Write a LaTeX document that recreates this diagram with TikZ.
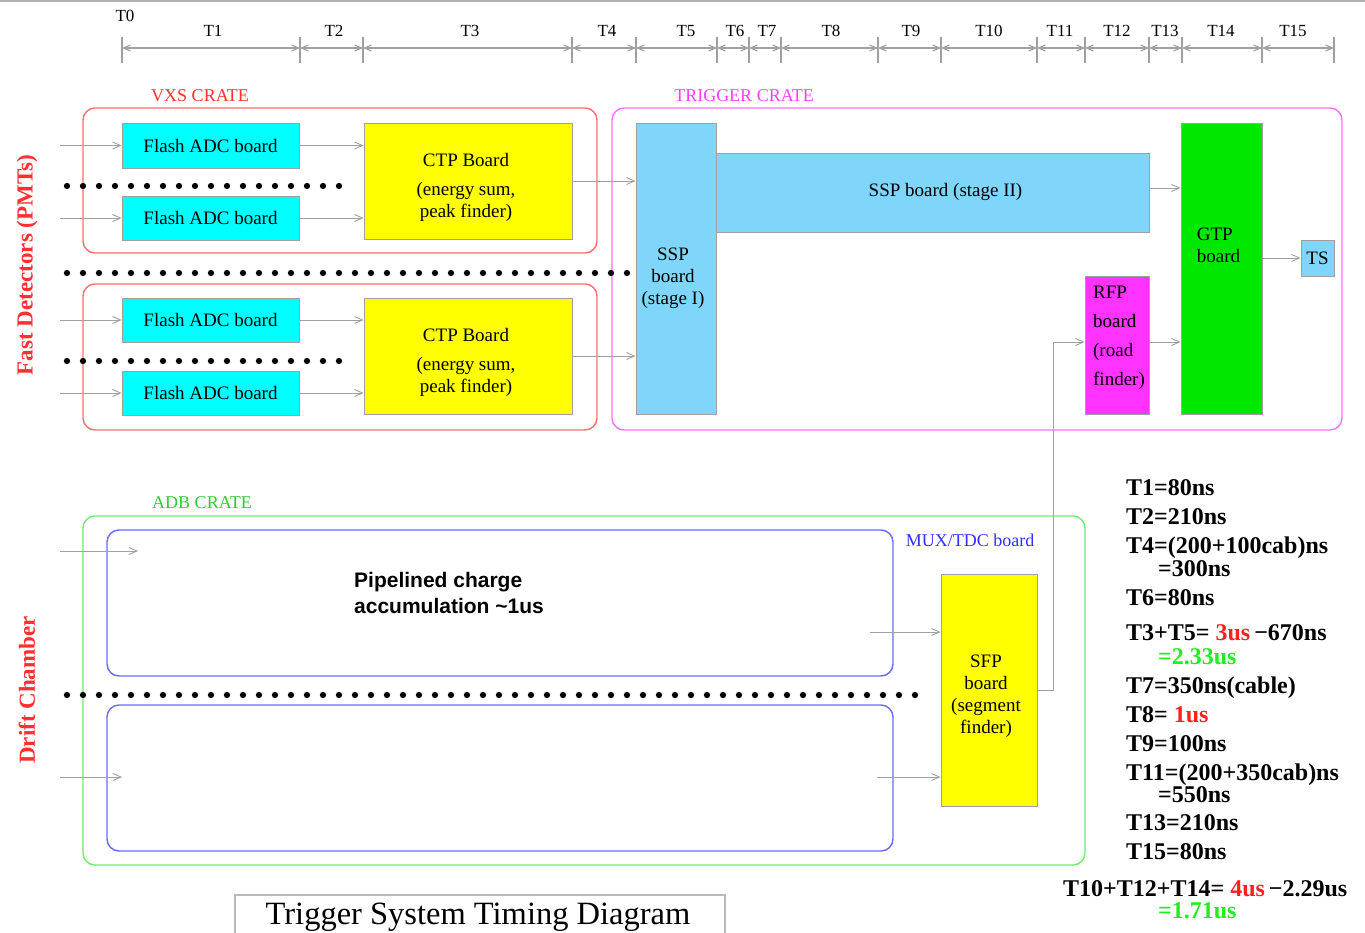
\documentclass[tikz,border=0pt]{standalone}
\usepackage{fontspec}
\setmainfont{Liberation Serif}
\newfontfamily\arialfont{Liberation Sans}
\usetikzlibrary{arrows.meta,calc}
\definecolor{fcyan}{HTML}{00FFFF}
\definecolor{fyellow}{HTML}{FFFF00}
\definecolor{sspblue}{HTML}{80D6FA}
\definecolor{rfpmag}{HTML}{FF33FF}
\definecolor{gtpgreen}{HTML}{00E800}
\definecolor{cratered}{HTML}{FF7070}
\definecolor{cratemag}{HTML}{FF70FF}
\definecolor{crategreen}{HTML}{70EE70}
\definecolor{muxblue}{HTML}{6A6AFF}
\definecolor{lblred}{HTML}{FF3030}
\definecolor{lblmag}{HTML}{FF40FF}
\definecolor{lblgreen}{HTML}{30CC30}
\definecolor{lblblue}{HTML}{3030FF}
\definecolor{arrgray}{HTML}{A0A0A0}
\definecolor{valred}{HTML}{FF2020}
\definecolor{valgreen}{HTML}{20EE20}
\begin{document}
\begin{tikzpicture}[x=1pt,y=-1pt,
  board/.style={draw=arrgray, line width=0.8pt, rectangle, inner sep=0pt, font=\fontsize{19}{22}\selectfont, align=center},
  btext/.style={font=\fontsize{19}{22}\selectfont, inner sep=0pt},
  crate/.style={draw, rectangle, rounded corners=12pt, line width=1.4pt, inner sep=0pt},
  conn/.style={draw=arrgray, line width=0.9pt, -{Straight Barb[length=8pt,width=7pt]}},
  tline/.style={draw=arrgray, line width=1.1pt, {Straight Barb[length=7pt,width=6pt]}-{Straight Barb[length=7pt,width=6pt]}},
  tick/.style={draw=arrgray, line width=1.1pt},
  tlab/.style={font=\fontsize{17}{19}\selectfont, inner sep=0pt},
  dots/.style={line width=6.3pt, line cap=round, dash pattern=on 0pt off 16pt},
  vals/.style={anchor=base west, font=\bfseries\fontsize{24}{28}\selectfont, inner sep=0pt},
  clbl/.style={font=\fontsize{18}{20}\selectfont, inner sep=0pt},
  side/.style={rotate=90, font=\bfseries\fontsize{23}{26}\selectfont, text=lblred, inner sep=0pt}
]
\fill[white] (0,0) rectangle (1365,932);
\useasboundingbox (0,0) rectangle (1365,932);
\draw[gray!60, line width=2pt] (0,1) -- (1365,1);

% timeline
\foreach \x [count=\i from 0] in {122,300,363,572,636,717,749,781,878,941,1037,1085,1149,1182,1262,1334} {
  \coordinate (tk\i) at (\x,48);
  \draw[tick] (\x,37) -- (\x,63);
}
\foreach \i [count=\j from 1] in {0,...,14} { \draw[tline] (tk\i) -- (tk\j); }
\node[tlab] (labT0) at (125,16) {T0};
\foreach \lab/\x in {T1/213,T2/334,T3/470,T4/607,T5/686,T6/735,T7/767,T8/831,T9/911,T10/989,T11/1060,T12/1117,T13/1165,T14/1221,T15/1293}
  \node[tlab] (lab\lab) at (\x,31) {\lab};

% crates
\node[crate, draw=cratered, minimum width=514pt, minimum height=145pt] (vxs1) at (340,180.5) {};
\node[crate, draw=cratered, minimum width=514pt, minimum height=146pt] (vxs2) at (340,357) {};
\node[crate, draw=cratemag, minimum width=730pt, minimum height=322pt] (trig) at (977,269) {};
\node[crate, draw=crategreen, minimum width=1002pt, minimum height=349pt] (adb) at (584,690.5) {};
\node[crate, draw=muxblue, minimum width=786pt, minimum height=146pt] (mux1) at (500,603) {};
\node[crate, draw=muxblue, minimum width=786pt, minimum height=146pt] (mux2) at (500,778) {};
\node[clbl, text=lblred] (vxslbl) at (200,96) {VXS CRATE};
\node[clbl, text=lblmag] (triglbl) at (744,96) {TRIGGER CRATE};
\node[clbl, text=lblgreen] (adblbl) at (202,503) {ADB CRATE};
\node[clbl, text=lblblue] (muxlbl) at (970,540) {MUX/TDC board};

% boards
\node[board, fill=fcyan, minimum width=177pt, minimum height=45pt] (fadc1) at (210.5,145.5) {Flash ADC board};
\node[board, fill=fcyan, minimum width=177pt, minimum height=44pt] (fadc2) at (210.5,218) {Flash ADC board};
\node[board, fill=fcyan, minimum width=177pt, minimum height=44pt] (fadc3) at (210.5,320) {Flash ADC board};
\node[board, fill=fcyan, minimum width=177pt, minimum height=44pt] (fadc4) at (210.5,393) {Flash ADC board};
\node[board, fill=fyellow, minimum width=208pt, minimum height=116pt,
  label={[btext, align=center, xshift=-2pt, yshift=-6pt]center:{CTP Board\\[7pt](energy sum,\\ peak finder)}}] (ctp1) at (468,181) {};
\node[board, fill=fyellow, minimum width=208pt, minimum height=116pt,
  label={[btext, align=center, xshift=-2pt, yshift=-6pt]center:{CTP Board\\[7pt](energy sum,\\ peak finder)}}] (ctp2) at (468,356) {};
\node[board, fill=sspblue, minimum width=433pt, minimum height=79pt,
  label={[btext, xshift=13pt, yshift=1pt]center:{SSP board (stage II)}}] (ssp2) at (932.5,192.5) {};
\node[board, fill=sspblue, minimum width=80pt, minimum height=291pt,
  label={[btext, align=center, xshift=-3pt, yshift=-10pt]center:{SSP\\board\\(stage I)}}] (ssp1) at (676,268.5) {};
\node[board, fill=rfpmag, minimum width=64pt, minimum height=138pt,
  label={[btext, align=left, xshift=2pt, yshift=7.5pt, font=\fontsize{19}{29}\selectfont]center:{RFP\\board\\(road\\finder)}}] (rfp) at (1117,345) {};
\node[board, fill=gtpgreen, minimum width=81pt, minimum height=291pt,
  label={[btext, align=left, xshift=-3pt, yshift=23.5pt]center:{GTP\\board}}] (gtp) at (1221.5,268.5) {};
\node[board, fill=sspblue, minimum width=33pt, minimum height=36pt] (ts) at (1317.5,258) {TS};
\node[board, fill=fyellow, minimum width=96pt, minimum height=232pt,
  label={[btext, align=center, xshift=-3pt, yshift=-6.5pt]center:{SFP\\board\\(segment\\finder)}}] (sfp) at (989,690) {};

\node[font=\arialfont\bfseries\fontsize{21}{26}\selectfont, align=left, anchor=north west, inner sep=0pt] (pipe) at (354,572) {Pipelined charge\\accumulation \textasciitilde1us};

% connectors
\coordinate (in1) at (60,145.5);
\coordinate (in2) at (60,218);
\coordinate (in3) at (60,320);
\coordinate (in4) at (60,393);
\draw[conn] (in1) -- (fadc1.west);
\draw[conn] (in2) -- (fadc2.west);
\draw[conn] (in3) -- (fadc3.west);
\draw[conn] (in4) -- (fadc4.west);
\draw[conn] (fadc1.east) -- (fadc1.east -| ctp1.west);
\draw[conn] (fadc2.east) -- (fadc2.east -| ctp1.west);
\draw[conn] (fadc3.east) -- (fadc3.east -| ctp2.west);
\draw[conn] (fadc4.east) -- (fadc4.east -| ctp2.west);
\draw[conn] (ctp1.east) -- (ctp1.east -| ssp1.west);
\draw[conn] (ctp2.east) -- (ctp2.east -| ssp1.west);
\draw[conn] ([yshift=4.5pt]ssp2.east) -- ([yshift=4.5pt]ssp2.east -| gtp.west);
\draw[conn] ([yshift=3pt]rfp.east) -- ([yshift=3pt]rfp.east -| gtp.west);
\draw[conn] (gtp.east |- ts.west) -- (ts.west);
\coordinate (sfpbend) at (1053,690);
\draw[conn] (sfp.east) -- (sfpbend) |- ([yshift=3pt]rfp.west);
\coordinate (in5) at (60,551);
\coordinate (in5end) at (138,551);
\coordinate (in6) at (60,777);
\coordinate (in6end) at (122,777);
\draw[conn] (in5) -- (in5end);
\draw[conn] (in6) -- (in6end);
\coordinate (m1out) at (870,632);
\coordinate (m2out) at (877,777);
\draw[conn] (m1out) -- (m1out -| sfp.west);
\draw[conn] (m2out) -- (m2out -| sfp.west);

% dotted rows
\draw[dots] (67,186) -- (345,186);
\draw[dots] (67,273) -- (632,273);
\draw[dots] (67,361) -- (345,361);
\draw[dots] (67,695) -- (920,695);

% side labels
\node[side] (fastdet) at (27,265) {Fast Detectors (PMTs)};
\node[side] (drift) at (27,690) {Drift Chamber};

% values
\node[vals] (v1) at (1126,495) {T1=80ns};
\node[vals] (v2) at (1126,524) {T2=210ns};
\node[vals] (v3) at (1126,553) {T4=(200+100cab)ns};
\node[vals] (v4) at (1158,576) {=300ns};
\node[vals] (v5) at (1126,605) {T6=80ns};
\node[vals] (v6) at (1126,640) {T3+T5= {\color{valred}3us}\,−670ns};
\node[vals, text=valgreen] (v7) at (1158,664) {=2.33us};
\node[vals] (v8) at (1126,693) {T7=350ns(cable)};
\node[vals] (v9) at (1126,722) {T8= {\color{valred}1us}};
\node[vals] (v10) at (1126,751) {T9=100ns};
\node[vals] (v11) at (1126,780) {T11=(200+350cab)ns};
\node[vals] (v12) at (1158,802) {=550ns};
\node[vals] (v13) at (1126,830) {T13=210ns};
\node[vals] (v14) at (1126,859) {T15=80ns};
\node[vals] (v15) at (1063,896) {T10+T12+T14= {\color{valred}4us}\,−2.29us};
\node[vals, text=valgreen] (v16) at (1158,918) {=1.71us};

% title
\draw[gray!55, line width=1.2pt] (235,940) -- (235,895) -- (725,895) -- (725,940);
\node[font=\fontsize{32.5}{36}\selectfont, inner sep=0pt] (title) at (478,917) {Trigger System Timing Diagram};
\end{tikzpicture}
\end{document}
